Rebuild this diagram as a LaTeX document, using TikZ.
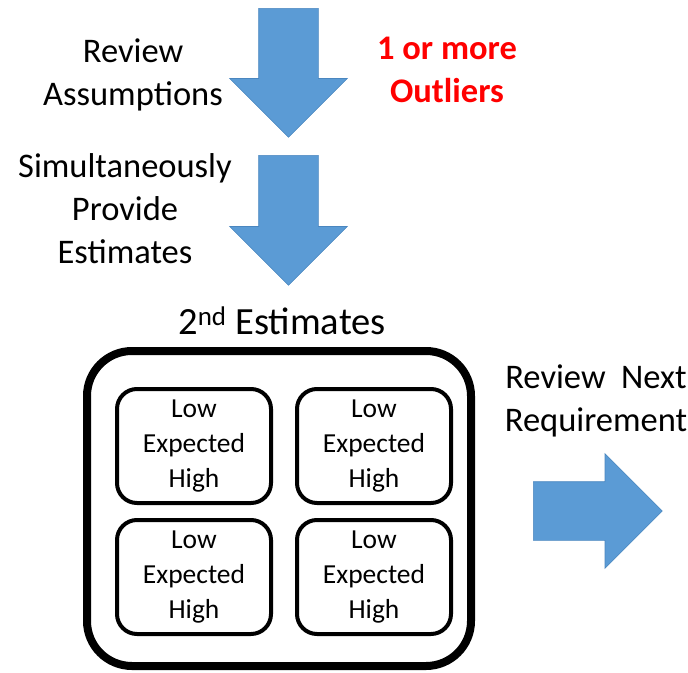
\documentclass[tikz,border=0pt]{standalone}
\usepackage{fontspec}
\setmainfont{Carlito}
\usepackage{xcolor}
\usetikzlibrary{
shapes.arrows,
positioning
}
\definecolor{blockblue}{HTML}{5B9BD5}
\definecolor{blockedge}{HTML}{4A86BF}
\definecolor{alertred}{HTML}{FF0000}

\begin{document}
\begin{tikzpicture}[
    x=1pt, y=-1pt,
    label/.style={align=center, font=\fontsize{34.5}{43}\selectfont},
    bigarrow/.style={single arrow, fill=blockblue, draw=blockedge, line width=0.6pt,
      inner xsep=0pt, inner ysep=29.5pt, single arrow head extend=29pt,
      single arrow tip angle=90, anchor=tail},
    frame/.style={draw, line width=8pt, rounded corners=45pt,
      minimum width=384pt, minimum height=315pt},
    cell/.style={draw, line width=4pt, rounded corners=20pt, align=center,
      minimum width=154pt, minimum height=114pt,
      font=\fontsize{27.5}{35}\selectfont}]
  \useasboundingbox (0,0) rectangle (688,672);

  % first round: review, then estimate again
  \node[bigarrow, rotate=-90, minimum height=129pt] (review) at (288.5,8) {};
  \node[label] (assume) at (133,75) {Review\\Assumptions};
  \node[label, text=alertred, font=\bfseries\fontsize{34.5}{43}\selectfont] (outliers) at (447,70) {1 or more\\Outliers};

  \node[bigarrow, rotate=-90, minimum height=130pt] (provide) at (288.5,155) {};
  \node[label] (simul) at (125,209) {Simultaneously\\Provide\\Estimates};

  % the estimates box
  \node[label, font=\fontsize{38.5}{46}\selectfont] (title) at (282,321) {2\textsuperscript{nd} Estimates};
  \node[frame] (est) at (279,508.5) {};
  \foreach \r/\yy in {1/446,2/577}
    \foreach \c/\xx in {1/194,2/374}
      \node[cell] (cell\r\c) at (\xx,\yy) {Low\\Expected\\High};

  % on to the next one
  \node[label] (next) at (596,401) {Review\hspace{0.45em}Next\\Requirement};
  \node[bigarrow, inner ysep=29pt, single arrow head extend=28pt,
    minimum height=129pt] (go) at (533,511) {};
\end{tikzpicture}
\end{document}
